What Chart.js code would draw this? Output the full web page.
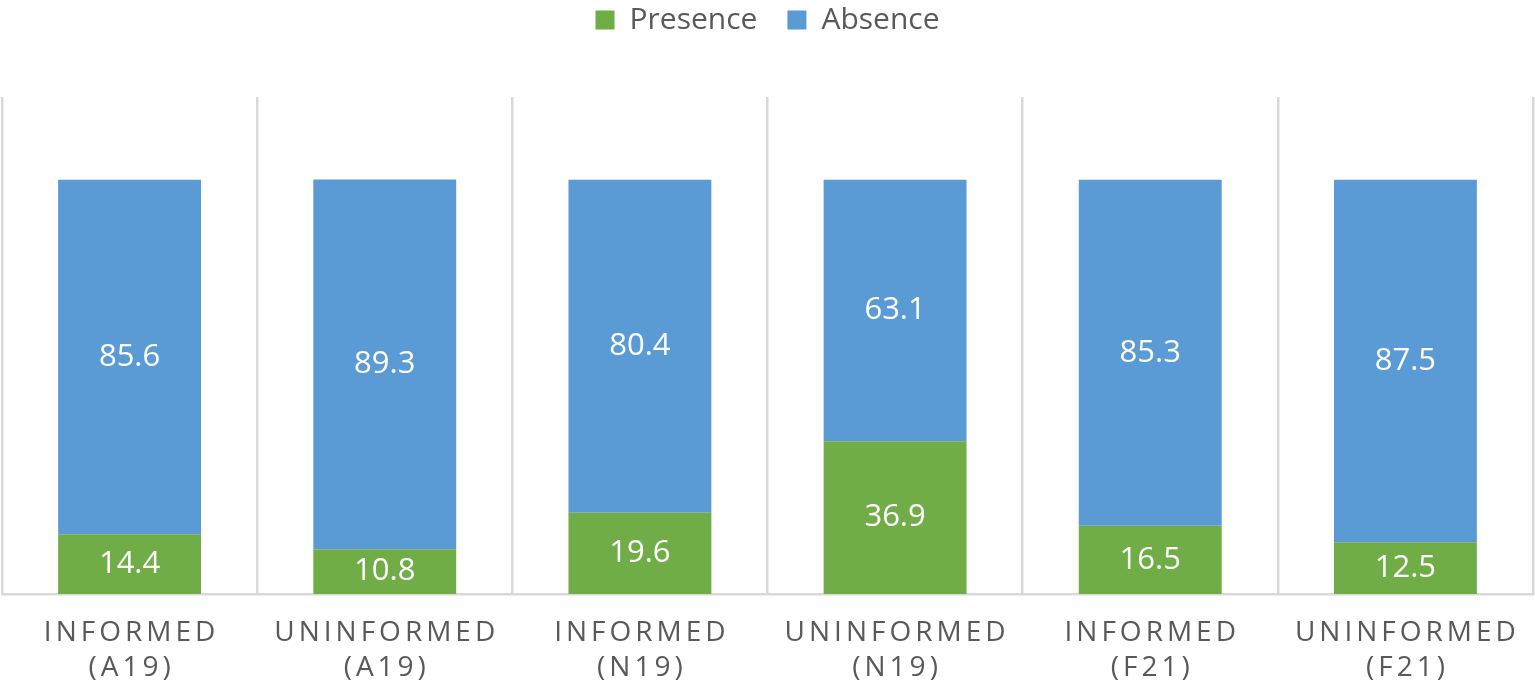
<!DOCTYPE html>
<html>
<head>
<meta charset="utf-8">
<script src="https://cdn.jsdelivr.net/npm/chart.js@4.4.0/dist/chart.umd.min.js"></script>
<style>
  html, body { margin: 0; padding: 0; background: #fff; }
  #wrap { width: 1535px; height: 691px; }
</style>
</head>
<body>
<div id="wrap"><canvas id="chart"></canvas></div>
<script>
// categories are two-line labels
const groups = ['INFORMED', 'UNINFORMED', 'INFORMED', 'UNINFORMED', 'INFORMED', 'UNINFORMED'];
const waves = ['(A19)', '(A19)', '(N19)', '(N19)', '(F21)', '(F21)'];
// bar heights as drawn
const presence = [14.4, 10.8, 19.6, 36.9, 16.5, 12.5];
const absence = [85.6, 89.3, 80.4, 63.1, 83.5, 87.5];
// printed value labels (the F21 informed bar is labelled 85.3 in the original)
const presenceText = ['14.4', '10.8', '19.6', '36.9', '16.5', '12.5'];
const absenceText = ['85.6', '89.3', '80.4', '63.1', '85.3', '87.5'];

const FONT = "'Open Sans', 'DejaVu Sans', sans-serif";

// value labels in the middle of each bar segment
const barLabels = {
  id: 'barLabels',
  afterDatasetsDraw(chart) {
    const ctx = chart.ctx;
    const texts = [presenceText, absenceText];
    ctx.save();
    ctx.font = '31px ' + FONT;
    ctx.fillStyle = '#ffffff';
    ctx.textAlign = 'center';
    ctx.textBaseline = 'middle';
    chart.data.datasets.forEach((ds, di) => {
      chart.getDatasetMeta(di).data.forEach((bar, i) => {
        ctx.fillText(texts[di][i], bar.x, (bar.y + bar.base) / 2);
      });
    });
    ctx.restore();
  }
};

// letter-spaced category labels under the axis
const spacedTicks = {
  id: 'spacedTicks',
  afterDraw(chart) {
    const ctx = chart.ctx;
    const x = chart.scales.x;
    const sp = 4;
    ctx.save();
    ctx.font = '28px ' + FONT;
    ctx.fillStyle = '#595959';
    ctx.textAlign = 'center';
    ctx.textBaseline = 'middle';
    ctx.letterSpacing = sp + 'px';
    groups.forEach((g, i) => {
      const px = x.getPixelForValue(i) + sp / 2;
      ctx.fillText(g, px, 633);
      ctx.fillText(waves[i], px, 668);
    });
    ctx.restore();
  }
};

// leave white space between the legend and the plot
const legendGap = {
  id: 'legendGap',
  afterInit(chart) {
    const lg = chart.legend;
    const fit = lg.fit;
    lg.fit = function () {
      fit.call(this);
      this.height += 52;
    };
  }
};

new Chart(document.getElementById('chart'), {
  type: 'bar',
  data: {
    labels: groups.map((g, i) => g + ' ' + waves[i]),
    datasets: [{
      label: 'Presence',
      data: presence,
      backgroundColor: '#70ad47',
      barPercentage: 0.56,
      categoryPercentage: 1
    }, {
      label: 'Absence',
      data: absence,
      backgroundColor: '#5b9bd5',
      barPercentage: 0.56,
      categoryPercentage: 1
    }]
  },
  options: {
    responsive: true,
    maintainAspectRatio: false,
    animation: false,
    layout: { padding: { left: 2, right: 2, top: -25, bottom: 97 } },
    scales: {
      x: {
        stacked: true,
        ticks: { display: false },
        grid: { color: '#d9d9d9', lineWidth: 2.5, drawTicks: false, offset: true },
        border: { color: '#d9d9d9', width: 2.5 }
      },
      y: {
        stacked: true,
        display: false,
        min: 0,
        max: 120
      }
    },
    plugins: {
      legend: {
        position: 'top',
        labels: {
          boxWidth: 19,
          boxHeight: 19,
          padding: 30,
          color: '#595959',
          font: { family: FONT, size: 30 }
        }
      },
      tooltip: { enabled: false }
    }
  },
  plugins: [barLabels, spacedTicks, legendGap]
});
</script>
</body>
</html>
